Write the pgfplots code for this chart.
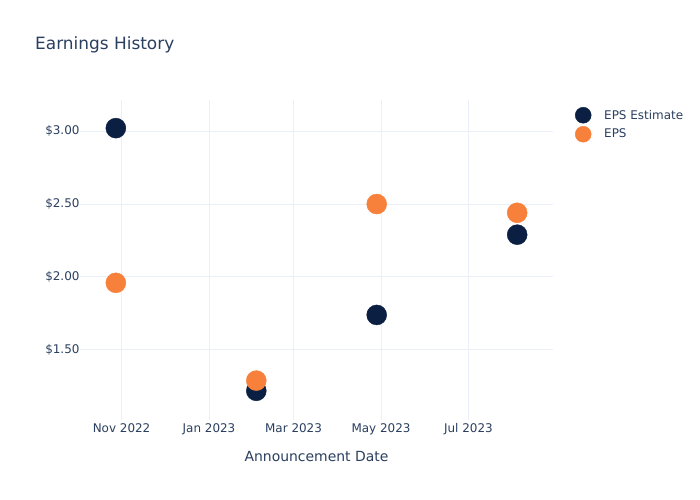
\documentclass[border=0pt]{standalone}
\usepackage{pgfplots}
\pgfplotsset{compat=1.18}
\usepackage{fontspec}
\setmainfont{DejaVu Sans}
\definecolor{txt}{HTML}{2A3F5F}
\definecolor{grd}{HTML}{EBF0F8}
\definecolor{navy}{HTML}{0B1F42}
\definecolor{orng}{HTML}{F7813A}
\begin{document}
\begin{tikzpicture}[x=1bp,y=1bp]
\path[use as bounding box, fill=white] (-80,-80) rectangle (620,420);
\node[anchor=base west, text=txt, font=\fontsize{17}{20}\selectfont, inner sep=0] at (-45,370) {Earnings History};
\begin{axis}[width=473bp, height=320bp, scale only axis,
  xmin=-90, xmax=240, ymin=1.02, ymax=3.213,
  axis line style={draw=none}, major tick length=0,
  grid=major, grid style={grd, line width=1bp},
  xtick={-61,0,59,120,181}, xticklabels={Nov 2022, Jan 2023, Mar 2023, May 2023, Jul 2023},
  ytick={1.5,2,2.5,3},
  yticklabel={\$\pgfmathprintnumber[fixed,fixed zerofill,precision=2]{\tick}},
  /pgf/number format/assume math mode=true,
  ticklabel style={text=txt, font=\fontsize{12}{14}\selectfont},
  yticklabel style={xshift=3bp},
  xlabel={Announcement Date},
  xlabel style={text=txt, font=\fontsize{14}{17}\selectfont, at={(axis description cs:0.5,-0.114)}, anchor=center},
  legend style={at={(axis description cs:1.0465,0.978)}, anchor=north west, draw=none, fill=none, inner sep=0pt,
    font=\fontsize{12}{14}\selectfont, text=txt, row sep=3bp, nodes={inner xsep=13bp, inner ysep=0pt}},
  legend cell align=left,
  legend image code/.code={\draw[#1, mark size=8bp] plot coordinates {(8bp,0bp)};},
  clip=false,
]
\addplot[only marks, mark=*, mark size=10bp, mark options={fill=navy, draw=navy}] coordinates {
  (-65,3.02) (33,1.22) (117,1.74) (215,2.29)};
\addlegendentry{EPS Estimate}
\addplot[only marks, mark=*, mark size=10bp, mark options={fill=orng, draw=orng}] coordinates {
  (-65,1.96) (33,1.29) (117,2.50) (215,2.44)};
\addlegendentry{EPS}
\end{axis}
\end{tikzpicture}
\end{document}
